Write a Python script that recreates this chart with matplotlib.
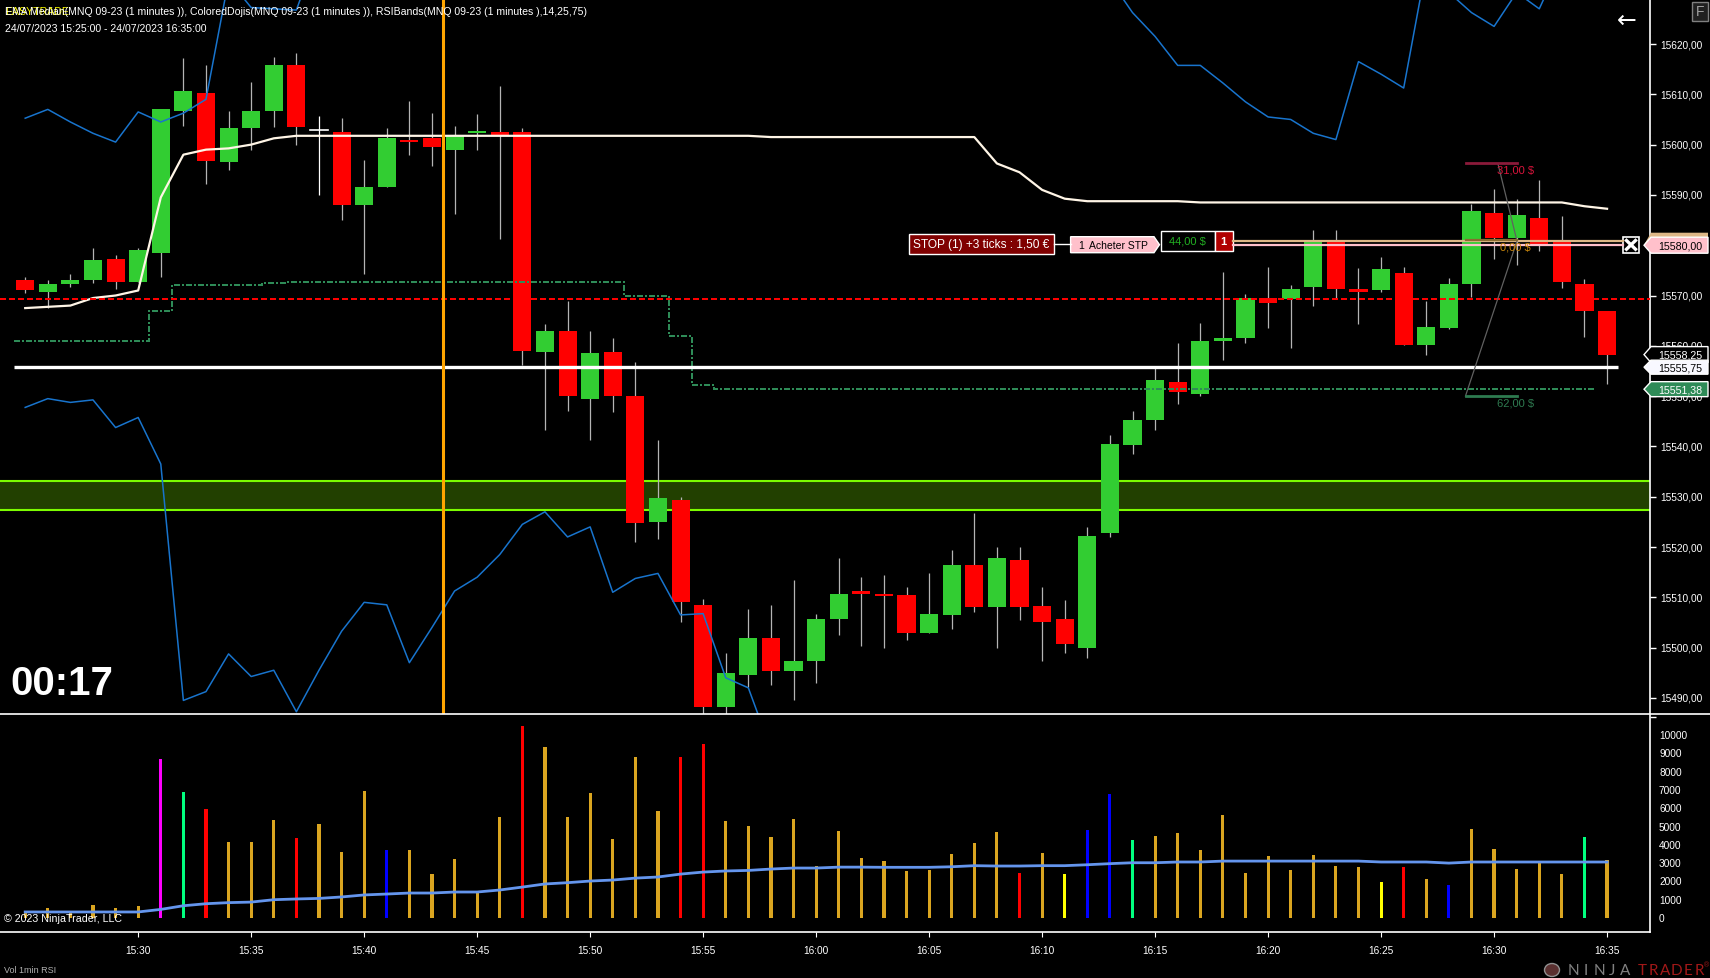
import numpy as np
import matplotlib
matplotlib.use('Agg')
import matplotlib.pyplot as plt
from matplotlib.patches import Polygon, Rectangle, Ellipse
from matplotlib.transforms import ScaledTranslation

plt.rcParams['font.family'] = ['Liberation Sans', 'DejaVu Sans']

# candles, one per minute from 15:25 to 16:35
opens = [15573.0, 15570.75, 15572.25, 15573.0, 15577.25, 15572.75, 15578.5, 15606.75, 15610.25, 15596.5,
         15603.25, 15606.75, 15615.75, 15603.0, 15602.5, 15588.0, 15591.5, 15601.0, 15601.25, 15599.0,
         15602.25, 15602.5, 15602.5, 15558.75, 15563.0, 15549.5, 15558.75, 15550.0, 15525.0, 15529.25,
         15508.5, 15488.25, 15494.5, 15502.0, 15495.25, 15497.25, 15505.75, 15511.25, 15510.75, 15510.5,
         15503.0, 15506.5, 15516.5, 15508.0, 15517.5, 15508.25, 15505.75, 15500.0, 15522.75, 15540.25,
         15545.25, 15552.75, 15550.5, 15561.0, 15561.5, 15569.5, 15569.25, 15571.75, 15580.75, 15571.25,
         15571.0, 15574.5, 15560.25, 15563.5, 15572.25, 15586.5, 15581.5, 15585.5, 15580.75, 15572.25, 15567.0]
highs = [15573.75, 15573.0, 15574.25, 15579.5, 15578.0, 15579.5, 15607.0, 15617.25, 15615.75, 15606.75,
         15612.5, 15617.5, 15618.25, 15605.75, 15605.25, 15597.0, 15603.25, 15608.75, 15606.25, 15603.75,
         15606.0, 15611.75, 15603.25, 15564.25, 15569.0, 15563.0, 15561.5, 15556.75, 15541.25, 15530.0,
         15509.75, 15499.0, 15507.75, 15508.5, 15513.5, 15506.75, 15517.75, 15514.0, 15514.5, 15512.0,
         15514.75, 15519.5, 15526.75, 15520.0, 15520.0, 15512.0, 15509.5, 15524.0, 15542.25, 15547.0,
         15555.5, 15560.5, 15564.5, 15574.75, 15570.25, 15575.75, 15572.0, 15583.0, 15583.0, 15575.5,
         15577.75, 15575.75, 15569.0, 15573.5, 15588.25, 15591.25, 15589.25, 15593.0, 15585.75, 15573.25, 15567.0]
lows = [15570.5, 15567.5, 15571.75, 15572.5, 15571.25, 15572.75, 15573.75, 15603.75, 15592.25, 15595.0,
        15599.0, 15603.5, 15600.0, 15590.0, 15585.0, 15574.25, 15591.5, 15598.0, 15595.75, 15586.25,
        15599.0, 15581.25, 15556.25, 15543.25, 15547.0, 15541.25, 15546.75, 15521.0, 15521.5, 15505.0,
        15486.0, 15486.0, 15492.25, 15492.5, 15489.5, 15493.0, 15502.5, 15500.25, 15500.0, 15501.5,
        15503.0, 15503.75, 15507.0, 15500.0, 15505.5, 15497.25, 15499.0, 15498.0, 15522.0, 15538.5,
        15543.25, 15548.5, 15550.0, 15557.25, 15560.5, 15563.5, 15559.5, 15568.0, 15569.5, 15564.25,
        15570.75, 15560.25, 15558.25, 15563.25, 15569.75, 15577.25, 15576.0, 15578.75, 15571.5, 15561.75, 15552.5]
closes = [15571.0, 15572.25, 15573.0, 15577.0, 15572.75, 15579.0, 15607.0, 15610.75, 15596.75, 15603.25,
          15606.75, 15615.75, 15603.5, 15603.0, 15588.0, 15591.5, 15601.25, 15600.5, 15599.5, 15601.75,
          15602.75, 15602.0, 15559.0, 15563.0, 15550.0, 15558.5, 15550.0, 15524.75, 15529.75, 15509.0,
          15488.25, 15495.0, 15502.0, 15495.25, 15497.25, 15505.75, 15510.75, 15510.75, 15510.25, 15503.0,
          15506.75, 15516.5, 15508.0, 15517.75, 15508.0, 15505.0, 15500.75, 15522.25, 15540.5, 15545.25,
          15553.25, 15550.75, 15561.0, 15561.5, 15569.5, 15568.5, 15571.25, 15580.75, 15571.25, 15570.75,
          15575.25, 15560.25, 15563.75, 15572.25, 15586.75, 15581.5, 15586.0, 15580.25, 15572.75, 15567.0, 15558.25]

median_line = [15567.5, 15567.75, 15568.0, 15569.5, 15570.0, 15571.0, 15589.5, 15598.0, 15599.0, 15599.25,
               15600.0, 15601.25, 15601.75, 15601.75, 15601.75, 15601.75, 15601.75, 15601.75, 15601.75, 15601.75,
               15601.75, 15601.75, 15601.75, 15601.75, 15601.75, 15601.75, 15601.75, 15601.75, 15601.75, 15601.75,
               15601.75, 15601.75, 15601.75, 15601.5, 15601.5, 15601.5, 15601.5, 15601.5, 15601.5, 15601.5,
               15601.5, 15601.5, 15601.5, 15596.25, 15594.5, 15591.0, 15589.25, 15588.75, 15588.75, 15588.75,
               15588.75, 15588.75, 15588.5, 15588.5, 15588.5, 15588.5, 15588.5, 15588.5, 15588.5, 15588.5,
               15588.5, 15588.5, 15588.5, 15588.5, 15588.5, 15588.5, 15588.5, 15588.5, 15588.5, 15587.75, 15587.25]

# RSI bands; the stretches above and below the pane are only estimated
upper_band = [15605.25, 15607.0, 15604.5, 15602.25, 15600.5, 15606.5, 15604.5, 15606.25, 15609.0, 15632.75,
              15627.25, 15627.0, 15626.75, 15639.25, 15640.0, 15641.0, 15642.0, 15644.0, 15645.0, 15646.0,
              15648.0, 15650.0, 15651.0, 15652.0, 15650.0, 15649.0, 15650.0, 15651.0, 15650.0, 15648.0,
              15647.0, 15646.0, 15645.0, 15645.0, 15644.0, 15643.0, 15642.0, 15642.0, 15641.0, 15641.0,
              15640.0, 15640.0, 15639.0, 15638.0, 15637.0, 15636.0, 15635.0, 15634.0, 15632.75, 15626.25,
              15621.5, 15615.75, 15615.75, 15612.25, 15608.5, 15605.5, 15605.0, 15602.25, 15601.0, 15616.5,
              15614.0, 15611.25, 15635.5, 15630.25, 15626.25, 15623.5, 15630.25, 15627.0, 15636.75]
lower_band = [15547.75, 15549.5, 15548.75, 15549.25, 15543.75, 15545.75, 15536.5, 15489.5, 15491.25, 15498.75,
              15494.25, 15495.5, 15487.25, 15495.5, 15503.25, 15509.0, 15508.5, 15497.0, 15504.0, 15511.25,
              15514.0, 15518.5, 15524.5, 15527.0, 15522.0, 15524.0, 15511.0, 15513.75, 15514.75, 15506.5,
              15506.75, 15494.0, 15492.0, 15479.75]

stop_edges = [-0.5, 5.5, 6.5, 10.5, 11.5, 26.5, 28.5, 29.5, 30.5, 69.5]
stop_levels = [15561.0, 15567.0, 15572.0, 15572.5, 15572.75, 15570.0, 15562.0, 15552.25, 15551.38]

volume = [350, 550, 300, 710, 550, 650, 8680, 6880, 5950, 4150, 4150, 5350, 4370, 5130, 3600, 6930, 3710, 3710,
          2400, 3220, 1420, 5510, 10480, 9340, 5510, 6825, 4310, 8790, 5840, 8790, 9500, 5300, 5020, 4420, 5400,
          2840, 4750, 3280, 3110, 2570, 2620, 3490, 4100, 4700, 2460, 3550, 2400, 4800, 6770, 4260, 4480, 4640,
          3710, 5620, 2460, 3390, 2620, 3440, 2840, 2780, 1970, 2780, 2130, 1800, 4860, 3770, 2680, 3000, 2400,
          4420, 3170]
vol_sma = [330, 330, 330, 330, 330, 330, 470, 670, 780, 840, 870, 1000, 1040, 1070, 1150, 1260, 1310, 1365,
           1365, 1420, 1420, 1530, 1690, 1860, 1930, 2020, 2075, 2180, 2240, 2400, 2510, 2570, 2600, 2675, 2730,
           2730, 2780, 2780, 2770, 2770, 2770, 2800, 2860, 2840, 2840, 2860, 2860, 2910, 2970, 3020, 3020, 3060,
           3060, 3110, 3110, 3110, 3110, 3110, 3110, 3110, 3060, 3060, 3060, 3000, 3060, 3060, 3060, 3060, 3060,
           3060, 3060]
g = 'goldenrod'
vol_colors = [g, g, g, g, g, g, 'magenta', 'springgreen', 'red', g, g, g, 'red', g, g, g, 'blue', g,
              g, g, g, g, 'red', g, g, g, g, g, g, 'red', 'red', g, g, g, g,
              g, g, g, g, g, g, g, g, g, 'red', g, 'yellow', 'blue', 'blue', 'springgreen', g, g,
              g, g, g, g, g, g, g, g, 'yellow', 'red', g, 'blue', g, g, g, g, g,
              'springgreen', g]

price_ticks = [15490, 15500, 15510, 15520, 15530, 15540, 15550, 15560, 15570, 15580, 15590, 15600, 15610, 15620]
vol_ticks = [0, 1000, 2000, 3000, 4000, 5000, 6000, 7000, 8000, 9000, 10000]
time_ticks = [5, 10, 15, 20, 25, 30, 35, 40, 45, 50, 55, 60, 65, 70]
time_labels = ['15:30', '15:35', '15:40', '15:45', '15:50', '15:55', '16:00', '16:05', '16:10', '16:15',
               '16:20', '16:25', '16:30', '16:35']

minutes = np.arange(len(opens))
W, H = 1710, 979
PY0, PY1, PX1 = 714, 932, 1650
SHIFT = 1  # everything sits one pixel lower than the edge readings
BG = 'black'
FS = 7.3

fig = plt.figure(figsize=(W / 100, H / 100), dpi=100, facecolor=BG)
ax = fig.add_axes([0, 1 - (PY0 + SHIFT) / H, PX1 / W, PY0 / H], facecolor=BG)
ax_vol = fig.add_axes([0, 1 - (PY1 + SHIFT) / H, PX1 / W, (PY1 - PY0) / H], facecolor=BG)
over = fig.add_axes([0, 0, 1, 1], facecolor='none', zorder=5)
over.set_xlim(0, W)
over.set_ylim(H - SHIFT, -SHIFT)
over.axis('off')

xlim = (-1.115, 71.9)
price_top, price_bottom = 15628.75, 15486.8
ax.set_xlim(xlim)
ax.set_ylim(price_bottom, price_top)
ax_vol.set_xlim(xlim)
ax_vol.set_ylim(-765, 11148)


def py(price):
    return PY0 * (price_top - price) / (price_top - price_bottom)


# price pane
ax.axhspan(15527.35, 15533.1, color='#224000', lw=0, zorder=1)
ax.axhline(15533.1, color='#7CFC00', lw=1.5, zorder=1.5)
ax.axhline(15527.35, color='#7CFC00', lw=1.5, zorder=1.5)

for m, o, h, l, c in zip(minutes, opens, highs, lows, closes):
    col = 'limegreen' if c > o else 'red' if c < o else 'white'
    wick = 'white' if c == o else '#b4b4b4'
    ax.plot([m, m], [l, h], color=wick, lw=0.9, zorder=2, solid_capstyle='butt')
    if c == o:
        ax.plot([m - 0.4, m + 0.4], [c, c], color=col, lw=1.2, zorder=3)
    else:
        ax.add_patch(Rectangle((m - 0.4, min(o, c)), 0.8, abs(c - o), facecolor=col, lw=0, zorder=3))

ax.plot(minutes[:len(upper_band)], upper_band, color='#1874CD', lw=1.1, zorder=4)
ax.plot(minutes[:len(lower_band)], lower_band, color='#1874CD', lw=1.1, zorder=4)
ax.plot(minutes, median_line, color='#FFF5E6', lw=1.6, zorder=5)
ax.stairs(stop_levels, stop_edges, baseline=None, color='seagreen', lw=1.44,
          linestyle=(0, (3, 1, 1, 1)), zorder=5)
ax.axhline(15569.25, color='red', lw=1.44, linestyle=(0, (3, 1.5)), zorder=5)
ax.plot([-0.5, 70.5], [15555.75, 15555.75], color='white', lw=2.4, zorder=6, solid_capstyle='butt')
ax.axvline(18.49, color='orange', lw=2.2, zorder=6)

# volume pane
ax_vol.bar(minutes, volume, width=0.14, color=vol_colors, zorder=2)
ax_vol.plot(minutes, vol_sma, color='cornflowerblue', lw=2, zorder=3)

for a in (ax, ax_vol):
    for side in ('left', 'top', 'bottom'):
        a.spines[side].set_visible(False)
    a.spines['right'].set_color('white')
    a.spines['right'].set_linewidth(1.2)
    a.yaxis.tick_right()

ax.set_xticks([])
ax.set_yticks(price_ticks)
ax.set_yticklabels([f'{p},00' for p in price_ticks])
ax.tick_params(axis='y', colors='white', length=4.3, width=1, labelsize=FS, pad=3)
ax_vol.set_yticks(vol_ticks)
ax_vol.set_yticks([11000], minor=True)
ax_vol.tick_params(axis='y', which='major', colors='white', length=0, labelsize=FS, pad=6.5)
ax_vol.tick_params(axis='y', which='minor', colors='white', length=4.3, width=1)
ax_vol.set_xticks(time_ticks)
ax_vol.set_xticklabels(time_labels)
ax_vol.tick_params(axis='x', colors='white', length=3.6, width=0.8, labelsize=FS, pad=5.8)

# keep the right-hand labels where they were before the shift
lift = ScaledTranslation(0, SHIFT / 100, fig.dpi_scale_trans)
for a in (ax, ax_vol):
    for tick in a.yaxis.get_major_ticks():
        tick.label2.set_transform(tick.label2.get_transform() + lift)

# pane borders
over.plot([0, W], [PY0, PY0], color='white', lw=1.2)
over.plot([0, PX1], [PY1, PY1], color='white', lw=1.2)

# header and small texts
over.text(5, 11, 'EASYTRADE', color='yellow', fontsize=7.6, va='center')
over.text(5, 11, 'EMA Median(MNQ 09-23 (1 minutes )), ColoredDojis(MNQ 09-23 (1 minutes )), '
          'RSIBands(MNQ 09-23 (1 minutes ),14,25,75)', color='white', fontsize=7.6, va='center')
over.text(5, 28, '24/07/2023 15:25:00 - 24/07/2023 16:35:00', color='white', fontsize=7.6, va='center')
over.text(10, 683, '00:17', color='white', fontsize=29, fontweight='bold', va='center')
over.text(4, 918, '\u00a9 2023 NinjaTrader, LLC', color='white', fontsize=7.7, va='center')
over.text(4, 970, 'Vol 1min RSI', color='#b0b0b0', fontsize=6.5, va='center')
over.text(1627, 20, '\u2190', color='white', fontsize=17, ha='center', va='center', family='DejaVu Sans')
over.add_patch(Rectangle((1692, 2), 16, 19, facecolor='#202020', edgecolor='#808080', lw=1))
over.text(1700, 11.5, 'F', color='#a0a0a0', fontsize=10, ha='center', va='center')


def box(x0, y0, x1, y1, face, edge='white', lw=1.0):
    over.add_patch(Rectangle((x0, y0), x1 - x0, y1 - y0, facecolor=face, edgecolor=edge, lw=lw))


# order ticket
box(908.6, 234.3, 1053.6, 254.3, '#800000')
over.text(981, 244.5, 'STOP (1) +3 ticks : 1,50 \u20ac', color='white', fontsize=8.6, ha='center', va='center')
over.plot([1053.6, 1070.6], [244.5, 244.5], color='white', lw=1)
over.add_patch(Polygon([(1070.6, 236.7), (1154, 236.7), (1159.5, 244.7), (1154, 252.7), (1070.6, 252.7)],
                       facecolor='pink', edgecolor='white', lw=1))
over.text(1078, 244.7, '1', color='black', fontsize=7.5, va='center')
over.text(1089, 244.7, 'Acheter STP', color='black', fontsize=7.5, va='center')
box(1160.6, 231.3, 1214.6, 250.7, 'black')
over.text(1187.6, 241, '44,00 $', color='#22B022', fontsize=8, ha='center', va='center')
box(1214.6, 231.3, 1232.6, 250.7, '#B00000')
over.text(1223.6, 241, '1', color='white', fontsize=8, fontweight='bold', ha='center', va='center')
over.plot([1232.6, 1623], [241, 241], color='burlywood', lw=1.6)
over.plot([1232.6, 1623], [244.7, 244.7], color='pink', lw=1.6)
box(1623, 237, 1639, 252.7, 'black', lw=1.2)
over.plot([1626.5, 1635.5], [240.5, 249.2], color='white', lw=2.4)
over.plot([1626.5, 1635.5], [249.2, 240.5], color='white', lw=2.4)

# risk/reward drawing
over.plot([1465.5, 1517, 1498], [396, 241, 164], color='#606060', lw=0.9)
over.plot([1465.5, 1517], [163.3, 163.3], color='#8B1A3A', lw=2)
over.plot([1465.5, 1517], [396, 396], color='#2E7B50', lw=2)
over.plot([1465.5, 1517], [240, 240], color='#8B6A30', lw=1.6)
over.text(1515, 170, '31,00 $', color='crimson', fontsize=8, ha='center', va='center')
over.text(1515, 247, '0,00 $', color='#C8860B', fontsize=8, ha='center', va='center')
over.text(1515, 403, '62,00 $', color='#2E7B50', fontsize=8, ha='center', va='center')


def tag(y0, y1, face, text, tcol):
    ym = (y0 + y1) / 2
    over.add_patch(Polygon([(1644, ym), (1651, y0), (1708, y0), (1708, y1), (1651, y1)],
                           facecolor=face, edgecolor='white', lw=1))
    over.text(1680, ym, text, color=tcol, fontsize=FS + 0.4, ha='center', va='center')


over.add_patch(Polygon([(1644, 245), (1651, 232.7), (1708, 232.7), (1708, 245)], facecolor='burlywood', lw=0))
tag(py(15580) - 8, py(15580) + 8, 'pink', '15580,00', 'black')
tag(py(15558.25) - 8, py(15558.25) + 8, 'black', '15558,25', 'white')
tag(py(15555.75) - 7, py(15555.75) + 7, 'ghostwhite', '15555,75', 'black')
tag(py(15551.38) - 7.5, py(15551.38) + 7.5, 'seagreen', '15551,38', 'white')

# logo
over.add_patch(Ellipse((1552, 970), 15, 13, facecolor='#5a3030', edgecolor='#909090', lw=1))
for i, ch in enumerate('NINJA'):
    over.text(1573 + i * 13, 970, ch, color='#808080', fontsize=11, ha='center', va='center', family='Lato')
for i, ch in enumerate('TRADER'):
    over.text(1642 + i * 11.4, 970, ch, color='#A01818', fontsize=11, ha='center', va='center', family='Lato')
over.text(1706, 965, '\u00ae', color='#A01818', fontsize=5, ha='center', va='center')

fig.savefig('out.png', dpi=100, facecolor=BG)
